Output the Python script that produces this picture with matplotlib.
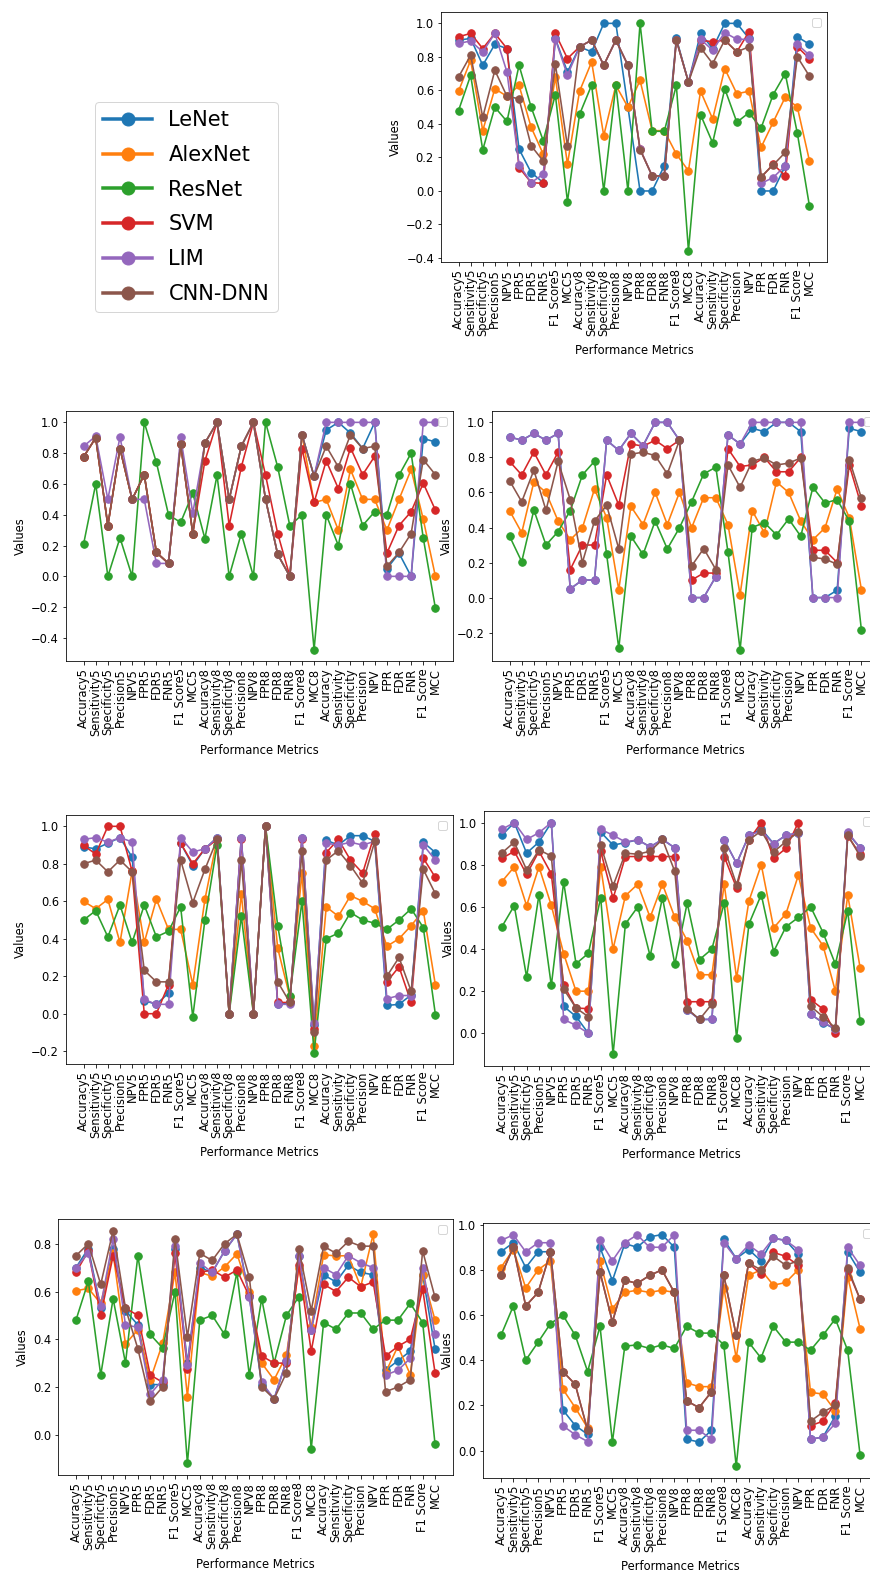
import matplotlib
matplotlib.use("Agg")
import matplotlib.pyplot as plt
from matplotlib.lines import Line2D

metrics = ['Accuracy5', 'Sensitivity5', 'Specificity5', 'Precision5', 'NPV5', 'FPR5', 'FDR5', 'FNR5',
           'F1 Score5', 'MCC5', 'Accuracy8', 'Sensitivity8', 'Specificity8', 'Precision8', 'NPV8',
           'FPR8', 'FDR8', 'FNR8', 'F1 Score8', 'MCC8', 'Accuracy', 'Sensitivity', 'Specificity',
           'Precision', 'NPV', 'FPR', 'FDR', 'FNR', 'F1 Score', 'MCC']
models = ['LeNet', 'AlexNet', 'ResNet', 'SVM', 'LIM', 'CNN-DNN']

# panel 1 (top right)
p1_lenet = [0.90, 0.91, 0.75, 0.875, 0.85, 0.25, 0.11, 0.05, 0.91, 0.71, 0.86, 0.83, 1.0, 1.0, 0.5,
            0.0, 0.0, 0.15, 0.91, 0.65, 0.94, 0.85, 1.0, 1.0, 0.91, 0.0, 0.0, 0.15, 0.92, 0.875]
p1_alexnet = [0.595, 0.78, 0.36, 0.61, 0.565, 0.63, 0.38, 0.22, 0.68, 0.16, 0.595, 0.77, 0.33, 0.63, 0.50,
              0.66, 0.36, 0.36, 0.22, 0.12, 0.595, 0.43, 0.73, 0.58, 0.595, 0.26, 0.41, 0.56, 0.50, 0.18]
p1_resnet = [0.48, 0.69, 0.245, 0.50, 0.415, 0.75, 0.50, 0.30, 0.575, -0.063, 0.457, 0.632, 0.0, 0.632, 0.0,
             1.0, 0.356, 0.356, 0.63, -0.356, 0.455, 0.287, 0.61, 0.41, 0.467, 0.375, 0.575, 0.70, 0.344, -0.09]
p1_svm = [0.92, 0.94, 0.85, 0.94, 0.85, 0.14, 0.05, 0.045, 0.94, 0.79, 0.86, 0.90, 0.75, 0.90, 0.75,
          0.25, 0.09, 0.09, 0.90, 0.65, 0.90, 0.89, 0.90, 0.83, 0.95, 0.08, 0.16, 0.09, 0.86, 0.79]
p1_lim = [0.88, 0.895, 0.83, 0.94, 0.71, 0.157, 0.05, 0.10, 0.905, 0.69, 0.86, 0.90, 0.75, 0.90, 0.75,
          0.25, 0.09, 0.09, 0.90, 0.65, 0.905, 0.84, 0.945, 0.905, 0.905, 0.045, 0.08, 0.15, 0.875, 0.81]
p1_cnndnn = [0.68, 0.81, 0.44, 0.72, 0.565, 0.55, 0.27, 0.178, 0.757, 0.267, 0.86, 0.90, 0.75, 0.90, 0.75,
             0.247, 0.09, 0.09, 0.90, 0.65, 0.855, 0.76, 0.90, 0.83, 0.86, 0.085, 0.155, 0.23, 0.80, 0.685]

# panel 2 (second row left)
p2_lenet = [0.776, 0.90, 0.33, 0.83, 0.50, 0.66, 0.155, 0.084, 0.86, 0.278, 0.866, 1.0, 0.50, 0.845, 1.0,
            0.50, 0.142, 0.0, 0.92, 0.65, 0.95, 1.0, 0.93, 0.83, 1.0, 0.05, 0.15, 0.0, 0.895, 0.873]
p2_alexnet = [0.776, 0.90, 0.33, 0.83, 0.50, 0.66, 0.155, 0.084, 0.86, 0.278, 0.866, 1.0, 0.50, 0.845, 1.0,
              0.50, 0.142, 0.0, 0.92, 0.48, 0.50, 0.30, 0.694, 0.50, 0.50, 0.30, 0.50, 0.694, 0.37, 0.0]
p2_resnet = [0.21, 0.60, 0.0, 0.25, 0.0, 1.0, 0.74, 0.40, 0.35, 0.54, 0.245, 0.657, 0.0, 0.278, 0.0,
             1.0, 0.71, 0.328, 0.40, -0.476, 0.40, 0.20, 0.60, 0.33, 0.42, 0.40, 0.657, 0.80, 0.248, -0.207]
p2_svm = [0.776, 0.90, 0.33, 0.83, 0.50, 0.66, 0.155, 0.084, 0.86, 0.278, 0.75, 1.0, 0.33, 0.71, 1.0,
          0.657, 0.278, 0.0, 0.83, 0.48, 0.75, 0.57, 0.835, 0.66, 0.78, 0.15, 0.33, 0.42, 0.605, 0.43]
p2_lim = [0.845, 0.91, 0.50, 0.905, 0.50, 0.50, 0.084, 0.084, 0.905, 0.41, 0.866, 1.0, 0.50, 0.845, 1.0,
          0.50, 0.142, 0.0, 0.92, 0.65, 1.0, 1.0, 1.0, 1.0, 1.0, 0.0, 0.0, 0.0, 1.0, 1.0]
p2_cnndnn = [0.776, 0.90, 0.33, 0.83, 0.50, 0.66, 0.155, 0.084, 0.86, 0.278, 0.866, 1.0, 0.50, 0.845, 1.0,
             0.50, 0.142, 0.0, 0.92, 0.65, 0.845, 0.71, 0.92, 0.83, 0.845, 0.065, 0.155, 0.278, 0.758, 0.66]

# panel 3 (second row right)
p3_lenet = [0.917, 0.898, 0.937, 0.898, 0.937, 0.05, 0.10, 0.10, 0.898, 0.84, 0.937, 0.867, 1.0, 1.0, 0.898,
            0.0, 0.0, 0.12, 0.928, 0.877, 0.966, 0.947, 1.0, 1.0, 0.947, 0.0, 0.0, 0.042, 0.966, 0.947]
p3_alexnet = [0.496, 0.37, 0.66, 0.60, 0.437, 0.33, 0.398, 0.62, 0.456, 0.045, 0.52, 0.417, 0.60, 0.417, 0.60,
              0.398, 0.57, 0.57, 0.417, 0.017, 0.496, 0.37, 0.66, 0.60, 0.437, 0.33, 0.398, 0.62, 0.456, 0.045]
p3_resnet = [0.35, 0.205, 0.50, 0.30, 0.377, 0.496, 0.70, 0.778, 0.246, -0.29, 0.35, 0.246, 0.437, 0.278, 0.398,
             0.547, 0.706, 0.744, 0.26, -0.297, 0.40, 0.428, 0.358, 0.449, 0.35, 0.629, 0.54, 0.559, 0.437, -0.185]
p3_svm = [0.777, 0.70, 0.83, 0.70, 0.83, 0.16, 0.30, 0.30, 0.70, 0.528, 0.877, 0.864, 0.898, 0.85, 0.898,
          0.10, 0.14, 0.14, 0.85, 0.748, 0.757, 0.80, 0.718, 0.718, 0.80, 0.27, 0.27, 0.20, 0.757, 0.523]
p3_lim = [0.917, 0.898, 0.937, 0.898, 0.937, 0.05, 0.10, 0.10, 0.898, 0.84, 0.937, 0.867, 1.0, 1.0, 0.898,
          0.0, 0.0, 0.12, 0.928, 0.877, 1.0, 1.0, 1.0, 1.0, 1.0, 0.0, 0.0, 0.0, 1.0, 1.0]
p3_cnndnn = [0.667, 0.547, 0.727, 0.498, 0.777, 0.559, 0.20, 0.437, 0.527, 0.278, 0.818, 0.83, 0.81, 0.706, 0.898,
             0.18, 0.28, 0.16, 0.757, 0.629, 0.778, 0.797, 0.757, 0.767, 0.797, 0.23, 0.22, 0.19, 0.788, 0.568]

# panel 4 (third row left)
p4_lenet = [0.89, 0.88, 0.91, 0.94, 0.835, 0.07, 0.05, 0.11, 0.91, 0.79, 0.88, 0.94, 0.0, 0.94, 0.0,
            1.0, 0.05, 0.06, 0.94, -0.06, 0.926, 0.90, 0.95, 0.95, 0.92, 0.044, 0.05, 0.10, 0.915, 0.86]
p4_alexnet = [0.60, 0.56, 0.61, 0.38, 0.76, 0.38, 0.61, 0.45, 0.45, 0.155, 0.61, 0.93, 0.0, 0.64, 0.0,
              1.0, 0.35, 0.09, 0.75, -0.17, 0.57, 0.52, 0.63, 0.60, 0.56, 0.36, 0.40, 0.47, 0.55, 0.153]
p4_resnet = [0.50, 0.55, 0.41, 0.58, 0.38, 0.58, 0.41, 0.44, 0.57, -0.018, 0.50, 0.90, 0.0, 0.52, 0.0,
             1.0, 0.47, 0.097, 0.60, -0.208, 0.40, 0.43, 0.54, 0.50, 0.483, 0.45, 0.50, 0.56, 0.46, -0.005]
p4_svm = [0.898, 0.852, 1.0, 1.0, 0.76, 0.0, 0.0, 0.155, 0.91, 0.80, 0.88, 0.93, 0.0, 0.93, 0.0,
          1.0, 0.06, 0.06, 0.93, -0.08, 0.86, 0.93, 0.82, 0.75, 0.96, 0.17, 0.25, 0.06, 0.83, 0.727]
p4_lim = [0.93, 0.94, 0.915, 0.94, 0.917, 0.076, 0.05, 0.05, 0.94, 0.863, 0.88, 0.94, 0.0, 0.94, 0.0,
          1.0, 0.05, 0.05, 0.94, -0.05, 0.91, 0.90, 0.915, 0.90, 0.92, 0.08, 0.097, 0.097, 0.90, 0.82]
p4_cnndnn = [0.80, 0.82, 0.757, 0.82, 0.757, 0.232, 0.17, 0.17, 0.82, 0.593, 0.77, 0.93, 0.0, 0.82, 0.0,
             1.0, 0.17, 0.06, 0.868, -0.10, 0.82, 0.87, 0.79, 0.697, 0.92, 0.20, 0.30, 0.12, 0.77, 0.64]

# panel 5 (third row right)
p5_lenet = [0.94, 1.0, 0.855, 0.908, 1.0, 0.128, 0.08, 0.0, 0.955, 0.893, 0.905, 0.918, 0.885, 0.92, 0.88,
            0.112, 0.066, 0.066, 0.918, 0.806, 0.94, 0.97, 0.90, 0.94, 0.95, 0.09, 0.05, 0.02, 0.95, 0.88]
p5_alexnet = [0.72, 0.79, 0.606, 0.79, 0.607, 0.378, 0.20, 0.20, 0.79, 0.40, 0.653, 0.708, 0.55, 0.708, 0.55,
              0.44, 0.278, 0.278, 0.708, 0.262, 0.628, 0.80, 0.50, 0.568, 0.75, 0.50, 0.416, 0.20, 0.656, 0.312]
p5_resnet = [0.506, 0.606, 0.267, 0.658, 0.227, 0.718, 0.33, 0.38, 0.644, -0.10, 0.519, 0.60, 0.367, 0.644, 0.328,
             0.618, 0.35, 0.40, 0.618, -0.022, 0.519, 0.658, 0.388, 0.506, 0.55, 0.60, 0.478, 0.328, 0.58, 0.06]
p5_svm = [0.83, 0.864, 0.754, 0.864, 0.757, 0.23, 0.12, 0.117, 0.864, 0.64, 0.839, 0.839, 0.839, 0.839, 0.839,
          0.15, 0.15, 0.15, 0.839, 0.69, 0.918, 1.0, 0.83, 0.878, 1.0, 0.16, 0.115, 0.0, 0.937, 0.85]
p5_lim = [0.968, 1.0, 0.92, 0.952, 1.0, 0.066, 0.038, 0.0, 0.968, 0.94, 0.908, 0.918, 0.885, 0.92, 0.88,
          0.112, 0.066, 0.066, 0.918, 0.806, 0.94, 0.96, 0.90, 0.94, 0.95, 0.09, 0.052, 0.022, 0.955, 0.88]
p5_cnndnn = [0.856, 0.907, 0.776, 0.871, 0.841, 0.21, 0.12, 0.079, 0.893, 0.70, 0.855, 0.85, 0.864, 0.92, 0.768,
             0.117, 0.066, 0.139, 0.879, 0.705, 0.918, 0.96, 0.861, 0.91, 0.955, 0.128, 0.079, 0.025, 0.94, 0.841]

# panel 6 (bottom left)
p6_lenet = [0.70, 0.78, 0.53, 0.78, 0.52, 0.46, 0.21, 0.21, 0.78, 0.30, 0.70, 0.68, 0.77, 0.84, 0.58,
            0.21, 0.15, 0.31, 0.75, 0.44, 0.67, 0.64, 0.71, 0.68, 0.67, 0.27, 0.31, 0.35, 0.67, 0.36]
p6_alexnet = [0.603, 0.613, 0.55, 0.76, 0.38, 0.44, 0.23, 0.383, 0.68, 0.16, 0.68, 0.664, 0.703, 0.758, 0.60,
              0.30, 0.23, 0.333, 0.70, 0.45, 0.754, 0.749, 0.75, 0.62, 0.84, 0.26, 0.37, 0.252, 0.67, 0.48]
p6_resnet = [0.48, 0.643, 0.25, 0.57, 0.30, 0.75, 0.42, 0.363, 0.60, -0.12, 0.48, 0.50, 0.42, 0.68, 0.25,
             0.57, 0.30, 0.50, 0.578, -0.06, 0.47, 0.442, 0.51, 0.51, 0.442, 0.48, 0.48, 0.55, 0.47, -0.04]
p6_svm = [0.68, 0.77, 0.50, 0.75, 0.53, 0.50, 0.25, 0.22, 0.76, 0.275, 0.68, 0.69, 0.66, 0.69, 0.58,
          0.33, 0.30, 0.30, 0.71, 0.35, 0.63, 0.60, 0.66, 0.62, 0.64, 0.33, 0.37, 0.40, 0.61, 0.26]
p6_lim = [0.70, 0.76, 0.54, 0.82, 0.46, 0.45, 0.17, 0.23, 0.79, 0.29, 0.72, 0.68, 0.77, 0.84, 0.575,
          0.22, 0.15, 0.31, 0.75, 0.44, 0.70, 0.67, 0.75, 0.72, 0.70, 0.25, 0.27, 0.32, 0.70, 0.42]
p6_cnndnn = [0.75, 0.80, 0.63, 0.855, 0.53, 0.36, 0.14, 0.20, 0.82, 0.41, 0.76, 0.73, 0.80, 0.84, 0.66,
             0.20, 0.15, 0.26, 0.78, 0.52, 0.79, 0.76, 0.81, 0.79, 0.79, 0.18, 0.20, 0.23, 0.77, 0.575]

# panel 7 (bottom right)
p7_lenet = [0.88, 0.92, 0.81, 0.88, 0.88, 0.18, 0.111, 0.072, 0.90, 0.752, 0.916, 0.90, 0.946, 0.956, 0.90,
            0.05, 0.038, 0.09, 0.935, 0.85, 0.89, 0.84, 0.94, 0.93, 0.87, 0.05, 0.06, 0.152, 0.88, 0.79]
p7_alexnet = [0.81, 0.89, 0.72, 0.80, 0.84, 0.272, 0.19, 0.10, 0.84, 0.628, 0.70, 0.71, 0.70, 0.71, 0.70,
              0.30, 0.283, 0.283, 0.72, 0.41, 0.775, 0.80, 0.732, 0.744, 0.80, 0.258, 0.25, 0.176, 0.77, 0.54]
p7_resnet = [0.51, 0.64, 0.40, 0.48, 0.562, 0.60, 0.51, 0.35, 0.55, 0.038, 0.462, 0.468, 0.452, 0.468, 0.452,
             0.55, 0.52, 0.52, 0.468, -0.07, 0.48, 0.41, 0.55, 0.48, 0.48, 0.444, 0.51, 0.583, 0.444, -0.018]
p7_svm = [0.775, 0.90, 0.64, 0.70, 0.88, 0.35, 0.293, 0.09, 0.79, 0.57, 0.754, 0.74, 0.775, 0.80, 0.70,
          0.22, 0.19, 0.26, 0.775, 0.51, 0.83, 0.78, 0.877, 0.86, 0.82, 0.11, 0.13, 0.21, 0.80, 0.67]
p7_lim = [0.93, 0.955, 0.88, 0.92, 0.92, 0.11, 0.07, 0.04, 0.93, 0.84, 0.92, 0.955, 0.90, 0.90, 0.955,
          0.09, 0.09, 0.05, 0.92, 0.85, 0.91, 0.87, 0.94, 0.93, 0.89, 0.05, 0.06, 0.12, 0.90, 0.82]
p7_cnndnn = [0.775, 0.90, 0.64, 0.70, 0.88, 0.35, 0.293, 0.09, 0.79, 0.57, 0.754, 0.74, 0.775, 0.80, 0.70,
             0.22, 0.19, 0.26, 0.775, 0.51, 0.83, 0.80, 0.86, 0.82, 0.84, 0.13, 0.17, 0.20, 0.81, 0.67]

panels = [
    [p1_lenet, p1_alexnet, p1_resnet, p1_svm, p1_lim, p1_cnndnn],
    [p2_lenet, p2_alexnet, p2_resnet, p2_svm, p2_lim, p2_cnndnn],
    [p3_lenet, p3_alexnet, p3_resnet, p3_svm, p3_lim, p3_cnndnn],
    [p4_lenet, p4_alexnet, p4_resnet, p4_svm, p4_lim, p4_cnndnn],
    [p5_lenet, p5_alexnet, p5_resnet, p5_svm, p5_lim, p5_cnndnn],
    [p6_lenet, p6_alexnet, p6_resnet, p6_svm, p6_lim, p6_cnndnn],
    [p7_lenet, p7_alexnet, p7_resnet, p7_svm, p7_lim, p7_cnndnn],
]

# axes boxes in pixels (left, top, right, bottom)
boxes = [(441, 12, 827, 262), (66, 411, 453, 661), (492, 411, 879, 661),
         (66, 815, 453, 1064), (484, 811, 878, 1066), (58, 1219, 453, 1475), (483, 1223, 878, 1478)]

W, H = 870, 1578
colors = ['C0', 'C1', 'C2', 'C3', 'C4', 'C5']
plt.rcParams['font.size'] = 11.5
fig = plt.figure(figsize=(W / 72, H / 72), dpi=72)

for data, (l, t, r, b) in zip(panels, boxes):
    ax = fig.add_axes([l / W, 1 - b / H, (r - l) / W, (b - t) / H])
    for vals, c in zip(data, colors):
        ax.plot(metrics, vals, marker='o', markersize=7.5, lw=1.6, color=c)
    ax.tick_params(axis='x', labelrotation=90)
    ax.set_xlabel('Performance Metrics', labelpad=8)
    ax.set_ylabel('Values')
    ax.legend(handles=[], loc='upper right')

handles = [Line2D([], [], color=c, marker='o', lw=3.5, markersize=13) for c in colors]
fig.legend(handles, models, loc='upper left', bbox_to_anchor=(95 / W, 1 - 102 / H),
           fontsize=21, handlelength=2.3, labelspacing=0.7, borderaxespad=0)

fig.savefig('out.png', dpi=72)
